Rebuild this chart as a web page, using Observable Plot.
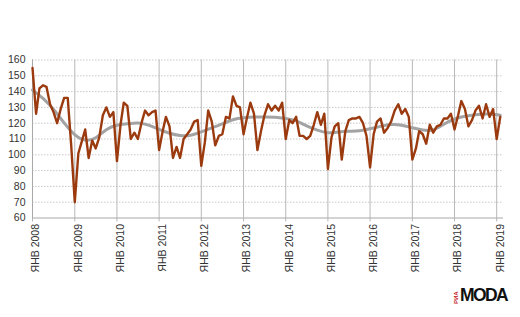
<!DOCTYPE html>
<html>
<head>
<meta charset="utf-8">
<script src="https://cdn.jsdelivr.net/npm/d3@7"></script>
<script src="https://cdn.jsdelivr.net/npm/@observablehq/plot@0.6"></script>
<style>
  html, body { margin: 0; padding: 0; background: #fff; }
  #wrap { position: relative; width: 520px; height: 317px; overflow: hidden; font-family: "Liberation Sans", Arial, sans-serif; }
  #logo { position: absolute; left: 453px; top: 286px; height: 20px; }
  #logo .ria { position: absolute; left: 0px; top: 2px; width: 7px; height: 16px; }
  #logo .ria span { position: absolute; left: 8px; top: 0; transform: rotate(-90deg); transform-origin: 0 0; font-size: 6px; font-weight: bold; color: #c4161c; white-space: nowrap; display: block; translate: -8px 16px; }
  #logo .moda { position: absolute; left: 7px; top: -1px; font-size: 17.5px; font-weight: bold; letter-spacing: -1.6px; color: #111; white-space: nowrap; }
</style>
</head>
<body>
<div id="wrap">
  <div id="chart"></div>
  <div id="logo"><div class="ria"><span>РИА</span></div><div class="moda">MODA</div></div>
</div>
<script>
// Monthly index values, Jan 2008 – Feb 2019
const startYear = 2008;
const values2008 = [155, 126, 142, 144, 143, 132, 127, 120, 129, 136, 136, 106];
const values2009 = [70, 101, 108, 116, 98, 109, 104, 111, 125, 130, 124, 127];
const values2010 = [96, 119, 133, 131, 110, 114, 110, 120, 128, 125, 127, 128];
const values2011 = [103, 115, 124, 118, 98, 105, 98, 110, 113, 116, 121, 122];
const values2012 = [93, 108, 128, 121, 106, 112, 113, 124, 123, 137, 131, 130];
const values2013 = [113, 124, 133, 126, 103, 115, 125, 132, 128, 131, 128, 133];
const values2014 = [110, 122, 120, 124, 112, 112, 110, 112, 119, 127, 119, 126];
const values2015 = [91, 111, 118, 120, 97, 115, 122, 123, 123, 124, 120, 112];
const values2016 = [92, 113, 121, 123, 114, 117, 121, 128, 132, 126, 129, 124];
const values2017 = [97, 104, 115, 113, 107, 119, 114, 118, 119, 123, 123, 126];
const values2018 = [116, 125, 134, 129, 118, 122, 128, 131, 123, 132, 124, 129];
const values2019 = [110, 124];

// Smoothed trend, read quarterly (Jan, Apr, Jul, Oct), last point Feb 2019
const trendMonths = ["2008-01","2008-04","2008-07","2008-10","2009-01","2009-04","2009-07","2009-10",
  "2010-01","2010-04","2010-07","2010-10","2011-01","2011-04","2011-07","2011-10",
  "2012-01","2012-04","2012-07","2012-10","2013-01","2013-04","2013-07","2013-10",
  "2014-01","2014-04","2014-07","2014-10","2015-01","2015-04","2015-07","2015-10",
  "2016-01","2016-04","2016-07","2016-10","2017-01","2017-04","2017-07","2017-10",
  "2018-01","2018-04","2018-07","2018-10","2019-01","2019-02"];
const trendValues = [141, 136, 129, 120, 112, 108.5, 110, 116.5,
  119, 119.5, 120.5, 119, 116, 113.5, 112, 112,
  114.5, 117, 119.5, 122.5, 123.5, 124, 124, 124,
  123, 122, 118, 115.5, 113.5, 114.5, 115, 115,
  116.5, 118, 119.5, 119, 117, 115.5, 115, 119.5,
  123, 124.5, 125.5, 126, 125.5, 125];

const yTicks = [60, 70, 80, 90, 100, 110, 120, 130, 140, 150, 160];
const xTickYears = [2008, 2009, 2010, 2011, 2012, 2013, 2014, 2015, 2016, 2017, 2018, 2019];
const xTickPrefix = "ЯНВ";

const allYears = [values2008, values2009, values2010, values2011, values2012, values2013,
  values2014, values2015, values2016, values2017, values2018, values2019];
const series = [];
allYears.forEach((arr, yi) => arr.forEach((v, m) => series.push({date: new Date(Date.UTC(startYear + yi, m, 1)), value: v})));
const trend = trendMonths.map((s, i) => ({date: new Date(s + "-01T00:00:00Z"), value: trendValues[i]}));
const xTicks = xTickYears.map(y => new Date(Date.UTC(y, 0, 1)));

const chart = Plot.plot({
  width: 520,
  height: 317,
  marginLeft: 32,
  marginRight: 17,
  marginTop: 59.5,
  marginBottom: 99.5,
  style: {fontFamily: "'Liberation Sans', Arial, sans-serif", background: "#fff"},
  x: {type: "utc", domain: [new Date(Date.UTC(2008, 0, 1)), new Date(Date.UTC(2019, 2, 1))]},
  y: {domain: [60, 160]},
  marks: [
    Plot.ruleY(yTicks.slice(1), {stroke: "#c8c8c8", strokeWidth: 1, strokeDasharray: "1.5,1.5"}),
    Plot.gridX(xTicks, {stroke: "#b8b8b8", strokeOpacity: 1, strokeWidth: 1}),
    Plot.axisX(xTicks, {
      tickFormat: d => `${xTickPrefix} ${d.getUTCFullYear()}`,
      tickRotate: -90, tickSize: 4, tickPadding: 2, stroke: "#b8b8b8",
      fontSize: 10.5, fill: "#333", label: null, textStroke: null
    }),
    Plot.axisY(yTicks, {tickSize: 0, tickPadding: 7, fontSize: 10.5, fill: "#333", label: null}),
    Plot.ruleY([60], {stroke: "#a8a8a8"}),
    Plot.ruleX([new Date(Date.UTC(2008, 0, 1))], {stroke: "#a8a8a8"}),
    Plot.line(trend, {x: "date", y: "value", stroke: "#a3a3a3", strokeWidth: 3, curve: "basis"}),
    Plot.line(series, {x: "date", y: "value", stroke: "#9b3a0e", strokeWidth: 2.4, strokeLinejoin: "round"})
  ]
});
document.getElementById("chart").appendChild(chart);
// nudge the rotated x tick labels so they sit just right of their gridlines, as in the reference
chart.querySelectorAll("g[aria-label='x-axis tick label']").forEach(g => {
  const t = g.getAttribute("transform") || "";
  g.setAttribute("transform", `translate(3.5,0) ${t}`);
});
</script>
</body>
</html>
